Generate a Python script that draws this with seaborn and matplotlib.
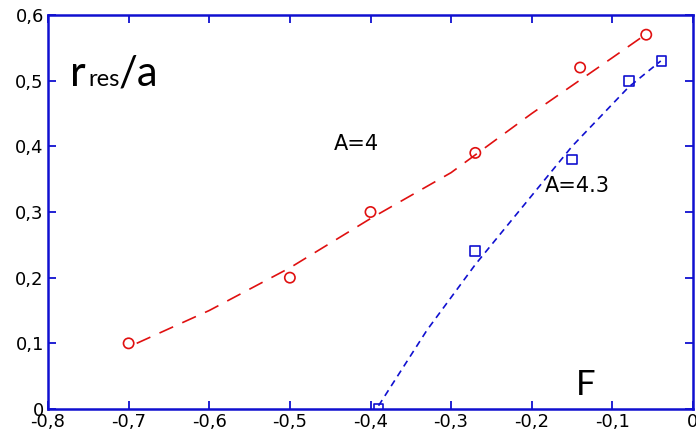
import matplotlib
matplotlib.use("Agg")
import matplotlib.pyplot as plt
import seaborn as sns
import pandas as pd

# Data points (markers)
a4_F = [-0.70, -0.50, -0.40, -0.27, -0.14, -0.058]
a4_r = [0.10, 0.20, 0.30, 0.39, 0.52, 0.57]
a43_F = [-0.39, -0.27, -0.15, -0.079, -0.039]
a43_r = [0.00, 0.24, 0.38, 0.50, 0.53]

# Fitted curves
fit4_F = [-0.69, -0.60, -0.50, -0.40, -0.30, -0.20, -0.10, -0.065]
fit4_r = [0.10, 0.15, 0.215, 0.29, 0.36, 0.45, 0.535, 0.565]
fit43_F = [-0.39, -0.33, -0.27, -0.21, -0.15, -0.08, -0.04]
fit43_r = [0.005, 0.12, 0.22, 0.31, 0.40, 0.49, 0.53]

xticks = [-0.8, -0.7, -0.6, -0.5, -0.4, -0.3, -0.2, -0.1, 0.0]
xticklabels = ["-0,8", "-0,7", "-0,6", "-0,5", "-0,4", "-0,3", "-0,2", "-0,1", "0"]
yticks = [0.0, 0.1, 0.2, 0.3, 0.4, 0.5, 0.6]
yticklabels = ["0", "0,1", "0,2", "0,3", "0,4", "0,5", "0,6"]

sns.set_style("ticks")
plt.rcParams['font.family'] = ['DejaVu Sans']
plt.rcParams['text.color'] = 'black'
plt.rcParams['xtick.labelcolor'] = 'black'
plt.rcParams['ytick.labelcolor'] = 'black'

fig = plt.figure(figsize=(6.96, 4.36), dpi=100)
ax = fig.add_axes([48/696, 1-409/436, (693-48)/696, (409-15)/436])

sns.lineplot(x=fit4_F, y=fit4_r, ax=ax, color="#e01010", lw=1.2,
             linestyle=(0, (9, 6)))
sns.lineplot(x=fit43_F, y=fit43_r, ax=ax, color="#1010d0", lw=1.2,
             linestyle=(0, (4, 3)))
sns.scatterplot(x=a4_F, y=a4_r, ax=ax, marker="o", s=55,
                facecolor="none", edgecolor="#e01010", linewidth=1.2)
sns.scatterplot(x=a43_F, y=a43_r, ax=ax, marker="s", s=50,
                facecolor="none", edgecolor="#1010d0", linewidth=1.2)

ax.set_xlim(-0.8, 0.0)
ax.set_ylim(0.0, 0.6)
ax.set_xticks(xticks)
ax.set_xticklabels(xticklabels)
ax.set_yticks(yticks)
ax.set_yticklabels(yticklabels)
ax.tick_params(direction="in", length=6, width=1.3, color="#1010d0", labelcolor="black",
               labelsize=13, top=True, right=True, labeltop=False, labelright=False, pad=3)
for sp in ax.spines.values():
    sp.set_color("#1010d0")
    sp.set_linewidth(1.8)
    sp.set_visible(True)

# Annotations
lab_font = ["Lato", "DejaVu Sans"]
ax.text(0.034, 0.82, "r", transform=ax.transAxes, fontsize=31, family=lab_font,
        va="baseline", color="black")
ax.text(0.062, 0.82, "res", transform=ax.transAxes, fontsize=17, family=lab_font,
        va="baseline", color="black")
ax.text(0.110, 0.82, "/a", transform=ax.transAxes, fontsize=30, family=lab_font,
        va="baseline", color="black")
ax.text(-0.446, 0.395, "A=4", fontsize=15, color="black")
ax.text(-0.184, 0.33, "A=4.3", fontsize=15, color="black")
ax.text(-0.145, 0.022, "F", fontsize=25, family=lab_font, color="black")

fig.savefig("out.png", dpi=100)
